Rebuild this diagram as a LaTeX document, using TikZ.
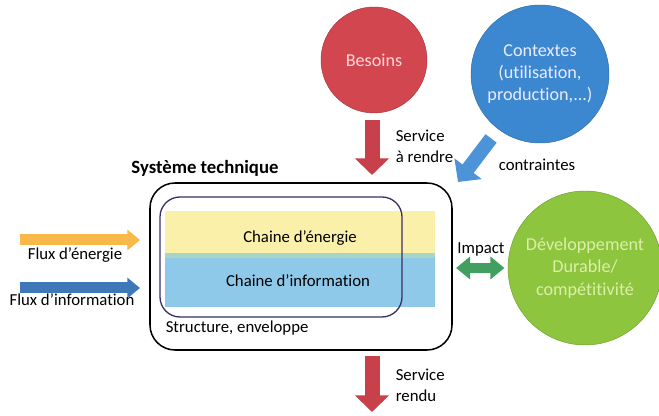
\documentclass[tikz,border=0pt]{standalone}
\usepackage{fontspec}
\setmainfont{Carlito}[Ligatures=CommonOff]
\usetikzlibrary{arrows.meta}

\definecolor{besoinred}{HTML}{D2464F}
\definecolor{arrowred}{HTML}{C8414A}
\definecolor{contexteblue}{HTML}{3C88D0}
\definecolor{contrainteblue}{HTML}{4D93D8}
\definecolor{durablegreen}{HTML}{8DC53E}
\definecolor{impactgreen}{HTML}{41A05F}
\definecolor{fluxyellow}{HTML}{F6B94A}
\definecolor{fluxblue}{HTML}{3F78B8}
\definecolor{bandyellow}{HTML}{FBF0AA}
\definecolor{bandblue}{HTML}{8EC9EA}
\definecolor{bandteal}{HTML}{A9D5C6}
\definecolor{innerpurple}{HTML}{3A2D66}
\definecolor{durabletext}{HTML}{DCEFA8}

\tikzset{
    txt/.style={font=\fontsize{14.3}{18}\selectfont, align=left},
    bulle/.style={circle, fill=#1, draw=#1!80!black, inner sep=0pt, align=center,
        font=\fontsize{15.5}{19}\selectfont},
    grosse/.style={line width=0.45cm, -{Triangle[width=1cm,length=0.5cm]}},
    flux/.style={line width=0.33cm, -{Triangle[width=0.6cm,length=0.38cm]}},
    impact/.style={line width=0.3cm,
        {Triangle[width=0.66cm,length=0.42cm]}-{Triangle[width=0.66cm,length=0.42cm]}},
}

\begin{document}
\begin{tikzpicture}
        \useasboundingbox (0,0) rectangle (19.77,12.48);

        % les trois bulles
        \node[bulle=besoinred, minimum size=3.18cm, text=red!15] (besoins) at (11.22,10.68) {Besoins};
        \node[bulle=contexteblue, minimum size=4.14cm, text=blue!8] (contextes) at (16.2,10.26)
            {Contextes\\(utilisation,\\production,...)};
        \node[bulle=durablegreen, minimum size=4.62cm, text=durabletext] (durable) at (17.55,4.44)
            {Développement\\Durable/\\compétitivité};

        % le systeme technique
        \node[draw, line width=1.3pt, rounded corners=0.75cm, minimum width=9.06cm, minimum height=5.01cm] (systeme) at (9.03,4.485) {};
        \node[fill=bandyellow, minimum width=8.1cm, minimum height=1.26cm, inner sep=0pt] (energie) at (9.0,5.52) {};
        \node[fill=bandblue, minimum width=8.1cm, minimum height=1.62cm, inner sep=0pt] (information) at (9.0,4.08) {};
        \fill[bandteal] (information.north west) rectangle ([yshift=-0.15cm]information.north east);
        \draw[innerpurple, line width=1.1pt, rounded corners=0.6cm] (4.8,2.97) rectangle (12.06,6.57);

        \node[txt] at (9.0,5.34) {Chaine d’énergie};
        \node[txt] at (8.94,4.05) {Chaine d’information};
        \node[txt, anchor=west] at (4.85,2.64) {Structure, enveloppe};
        \node[txt, font=\fontsize{16}{18}\selectfont\bfseries] at (6.15,7.44) {Système technique};

        % service a rendre
        \coordinate (srendre) at (11.16,7.23);
        \draw[grosse, arrowred, shorten <=0.2cm] (besoins.south -| srendre) -- (srendre);
        \node[txt, anchor=west] at (11.75,8.1) {Service\\à rendre};

        % contraintes
        \coordinate (contr) at (13.74,7.02);
        \draw[grosse, contrainteblue, line width=0.42cm, shorten <=0.35cm] (contextes) -- (contr);
        \node[txt] at (16.11,7.53) {contraintes};

        % flux
        \coordinate (eIn) at (0.6,5.28);
        \coordinate (eOut) at (4.2,5.28);
        \coordinate (iIn) at (0.6,3.84);
        \coordinate (iOut) at (4.2,3.84);
        \draw[flux, fluxyellow] (eIn) -- (eOut);
        \draw[flux, fluxblue] (iIn) -- (iOut);
        \node[txt] at (2.25,4.83) {Flux d’énergie};
        \node[txt] at (2.16,3.48) {Flux d’information};

        % impact
        \draw[impact, impactgreen, shorten >=0.1cm, shorten <=0.1cm] (systeme.east |- durable) -- (durable);
        \node[txt] at (14.43,5.01) {Impact};

        % service rendu
        \coordinate (srendu) at (11.16,0.12);
        \draw[grosse, arrowred, shorten <=0.15cm] (systeme.south -| srendu) -- (srendu);
        \node[txt, anchor=west] at (11.75,0.93) {Service\\rendu};
    \end{tikzpicture}
\end{document}
